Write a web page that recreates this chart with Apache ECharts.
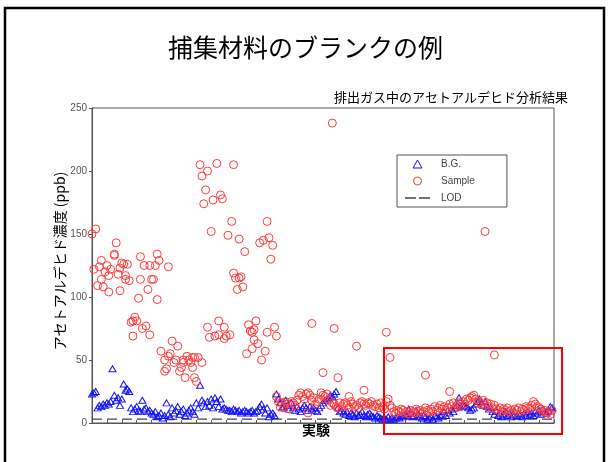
<!DOCTYPE html>
<html>
<head>
<meta charset="utf-8">
<script src="https://cdn.jsdelivr.net/npm/echarts@6/dist/echarts.min.js"></script>
<style>
  html, body { margin: 0; padding: 0; background: #fff; }
  #chart { width: 611px; height: 462px; }
</style>
</head>
<body>
<div id="chart"></div>
<script>
// Text
const chartTitle = '捕集材料のブランクの例';
const chartSubtitle = '排出ガス中のアセトアルデヒド分析結果';
const yAxisTitle = 'アセトアルデヒド濃度 (ppb)';
const xAxisTitle = '実験';
const seriesNames = ['B.G.', 'Sample', 'LOD'];

// Axes
const yTicks = [0, 50, 100, 150, 200, 250];
const runCount = 248;      // experiment runs on the x axis
const runTickStep = 8;
const lodPpb = 3;          // limit of detection

// Blank (B.G.) concentration for each run, in run order starting at run 0
const bgPpb = [
  23, 24, 25,
  12, 14, 13, 15, 14, 16, 15, 17,
  43,
  22, 18, 20, 14, 19, 31, 26, 27,
  25, 12, 9, 11, 13, 10, 9, 18, 11, 12, 9, 10,
  8, 7, 9, 5, 6, 8, 4, 6, 16, 7, 5,
  12, 8, 10, 13, 7, 9, 11, 6, 8, 10, 12, 9, 7, 16, 12,
  30,
  18, 16, 13, 17, 14, 19, 12, 20, 17, 13, 19, 11, 12, 11, 10,
  10, 9, 11, 10, 9, 10, 8, 9, 10, 9, 8, 9, 10, 8, 9, 10,
  13, 15, 11, 8, 12, 5, 7, 8, 6,
  23, 19, 16, 12, 13,
  18, 14, 11, 16, 12, 10, 13, 11, 9, 12, 14, 12, 10, 13, 11, 12, 10, 9,
  12, 14, 16, 18, 19, 20, 22, 21, 23, 25,
  12, 9,
  10, 8, 7, 9, 6, 8, 7, 5, 8, 6, 7, 9, 6, 5, 7, 8, 6, 5, 4, 6, 5,
  4, 3, 4, 3, 5, 3, 4, 3, 4,
  5, 4, 6, 5, 7, 6, 11, 8, 5, 6, 10, 7, 5, 4, 6, 5, 3,
  4, 5, 3, 6, 5, 4, 6,
  7, 9, 6, 10, 8, 11, 9, 12,
  14, 20, 13, 15, 14, 13,
  12, 10, 11,
  12, 15, 17, 19, 16, 14, 17, 13, 11, 12,
  9, 7, 10, 6, 8, 5, 7, 9,
  6, 8, 5, 7, 9, 6, 8, 7, 5, 8, 6, 9, 7, 8, 6,
  9, 8, 10, 7, 11, 9, 8, 10, 13, 12
];

// Sample results of the early campaigns: [run, ppb]
const sampleEarly = [
  [0, 150], [2, 154], [1, 122], [4, 124], [5, 129], [3, 109], [5, 114], [6, 108],
  [7, 120], [8, 125], [9, 117], [9, 104], [10, 122], [12, 134], [13, 143], [12, 133],
  [14, 118], [15, 123], [15, 105], [16, 127], [17, 126], [18, 117], [18, 114], [19, 126],
  [20, 113], [25, 99], [26, 132], [26, 114], [28, 125], [30, 106], [31, 125], [32, 114],
  [33, 114], [34, 125], [35, 98], [35, 134], [36, 129], [41, 124],
  [21, 80], [22, 81], [23, 84], [24, 81], [22, 69], [27, 75], [29, 77], [31, 70],
  [37, 57], [39, 41], [40, 43], [39, 50], [41, 53], [42, 55], [43, 65], [44, 48],
  [45, 50], [46, 61], [47, 41], [48, 44], [49, 48], [49, 50], [50, 36], [51, 53],
  [52, 50], [53, 48], [54, 52], [54, 44], [55, 52], [55, 36], [56, 33], [57, 52], [59, 48],
  [58, 205], [59, 196], [62, 200], [61, 185], [60, 174], [64, 152], [65, 177], [67, 206],
  [69, 181], [70, 178], [73, 149], [75, 160], [76, 205], [79, 146], [82, 136], [76, 119],
  [77, 115], [79, 115], [80, 116], [78, 106], [81, 108], [90, 143], [92, 145], [94, 160],
  [95, 147], [97, 141], [96, 130], [129, 238],
  [62, 76], [63, 68], [66, 69], [68, 70], [68, 81], [71, 76], [71, 67], [72, 69], [74, 70],
  [84, 78], [88, 81], [87, 74], [85, 73], [86, 72], [94, 72], [98, 76], [99, 69], [118, 79],
  [83, 55], [86, 59], [91, 50], [93, 57], [87, 66], [89, 63],
  [130, 75], [142, 61], [158, 72], [160, 52], [124, 40], [132, 36], [179, 38], [216, 54],
  [211, 152], [192, 25], [146, 26], [138, 21], [116, 8]
];

// Sample results of the later runs, one per run starting at sampleSeqStart
const sampleSeqStart = 99;
const sampleSeqPpb = [
  21, 17, 13, 16, 12, 17, 15, 11, 17, 16, 14, 18, 22, 24,
  21, 19, 23, 24, 22, 18, 20, 15, 17, 19,
  24, 22, 21, 23, 18, 14, 16, 15, 13, 12, 16,
  13, 15, 16, 14, 12, 17, 15, 13, 14, 12, 16,
  17, 15, 14, 16, 15, 17, 14, 13, 15, 12, 16,
  13, 11, 17, 19, 14, 12, 9, 8, 10, 9, 11,
  10, 8, 9, 7, 10, 9, 8, 11, 9, 10, 8, 9, 12, 10, 9, 11,
  9, 13, 10, 12, 14, 11, 13, 10, 12, 15, 13, 16, 12, 14, 16, 13,
  17, 15, 19, 18, 20, 21, 22, 19, 16, 17, 15, 18, 14, 16, 13, 15, 12, 14,
  11, 10, 12, 9, 11, 10, 12, 9, 10, 8, 11, 10, 12, 9, 11, 10, 13, 12, 11,
  14, 17, 15, 13, 12, 11, 9, 10, 8, 9, 7, 10
];

const BLUE = '#1414ff';
const RED = '#ff3a3a';
const AXIS = '#555';
const LATIN = '"Liberation Sans", Arial, sans-serif';
const CJK = '"Noto Sans CJK JP", "Noto Sans", sans-serif';

// Legend glyphs: an upright triangle and a two-dash stroke
const TRIANGLE_ICON = 'path://M5,0L10,9L0,9Z';
const DASH_ICON = 'path://M0,0H11V1.3H0Z M14,0H25V1.3H14Z';

const bgData = bgPpb.map((v, i) => [i, v]);
const sampleData = sampleEarly.concat(sampleSeqPpb.map((v, i) => [sampleSeqStart + i, v]));
const lodData = [[0, lodPpb], [runCount, lodPpb]];

const chart = echarts.init(document.getElementById('chart'), null, { renderer: 'canvas' });

chart.setOption({
  animation: false,
  backgroundColor: '#fff',
  grid: {
    left: 92, right: 57, top: 108, bottom: 39,
    show: true, borderColor: AXIS, borderWidth: 1, backgroundColor: 'transparent'
  },
  xAxis: {
    type: 'value',
    min: 0, max: runCount, interval: runTickStep,
    axisLine: { show: true, onZero: false, lineStyle: { color: AXIS, width: 1 } },
    axisTick: { show: true, inside: true, length: 3, lineStyle: { color: AXIS } },
    axisLabel: { show: false },
    splitLine: { show: false }
  },
  yAxis: {
    type: 'value',
    min: yTicks[0], max: yTicks[yTicks.length - 1], interval: yTicks[1] - yTicks[0],
    axisLine: { show: true, lineStyle: { color: AXIS, width: 1 } },
    axisTick: { show: true, inside: false, length: 3, lineStyle: { color: AXIS } },
    axisLabel: { show: true, fontSize: 10, color: '#555', fontFamily: LATIN, margin: 5 },
    splitLine: { show: false }
  },
  legend: {
    orient: 'vertical',
    left: 397, top: 155,
    padding: [3, 32, 3, 8],
    itemWidth: 25, itemHeight: 8, itemGap: 5,
    symbolKeepAspect: true,
    borderColor: AXIS, borderWidth: 1, borderRadius: 0,
    backgroundColor: '#fff',
    textStyle: { fontSize: 10, color: '#444', fontFamily: LATIN, padding: [0, 0, 0, 6], lineHeight: 12 },
    data: [
      { name: seriesNames[0], icon: TRIANGLE_ICON,
        itemStyle: { color: 'rgba(0,0,0,0)', borderColor: BLUE, borderWidth: 1 } },
      { name: seriesNames[1], icon: 'circle',
        itemStyle: { color: 'rgba(0,0,0,0)', borderColor: RED, borderWidth: 1 } },
      { name: seriesNames[2], icon: DASH_ICON,
        itemStyle: { color: '#444', borderWidth: 0 } }
    ]
  },
  series: [
    {
      name: seriesNames[0],
      type: 'scatter',
      symbol: 'triangle',
      symbolSize: [7, 6],
      itemStyle: { color: 'rgba(0,0,0,0)', borderColor: BLUE, borderWidth: 1, opacity: 1 },
      data: bgData,
      z: 3
    },
    {
      name: seriesNames[1],
      type: 'scatter',
      symbol: 'circle',
      symbolSize: 8,
      itemStyle: { color: 'rgba(0,0,0,0)', borderColor: RED, borderWidth: 1, opacity: 1 },
      data: sampleData,
      z: 4
    },
    {
      name: seriesNames[2],
      type: 'line',
      symbol: 'none',
      lineStyle: { color: '#444', width: 1.3, type: [10, 5] },
      itemStyle: { color: '#444' },
      data: lodData,
      z: 2
    }
  ],
  graphic: [
    { type: 'rect', silent: true,
      shape: { x: 5, y: 8, width: 599, height: 480 },
      style: { fill: 'none', stroke: '#000', lineWidth: 2.5 } },
    { type: 'text', silent: true, x: 305.5, y: 47,
      style: { text: chartTitle, font: '25px ' + CJK, fill: '#000', align: 'center', verticalAlign: 'middle' } },
    { type: 'text', silent: true, x: 568, y: 97,
      style: { text: chartSubtitle, font: '13px ' + CJK, fill: '#000', align: 'right', verticalAlign: 'middle' } },
    { type: 'text', silent: true, x: 60, y: 261, rotation: Math.PI / 2,
      style: { text: yAxisTitle, font: '14px ' + CJK, fill: '#000', align: 'center', verticalAlign: 'middle' } },
    { type: 'text', silent: true, x: 316, y: 430,
      style: { text: xAxisTitle, font: 'bold 14px ' + CJK, fill: '#000', align: 'center', verticalAlign: 'middle' } },
    { type: 'rect', silent: true, z: 100,
      shape: { x: 384, y: 348, width: 178, height: 86 },
      style: { fill: 'none', stroke: '#ff0000', lineWidth: 2 } }
  ]
});
</script>
</body>
</html>
